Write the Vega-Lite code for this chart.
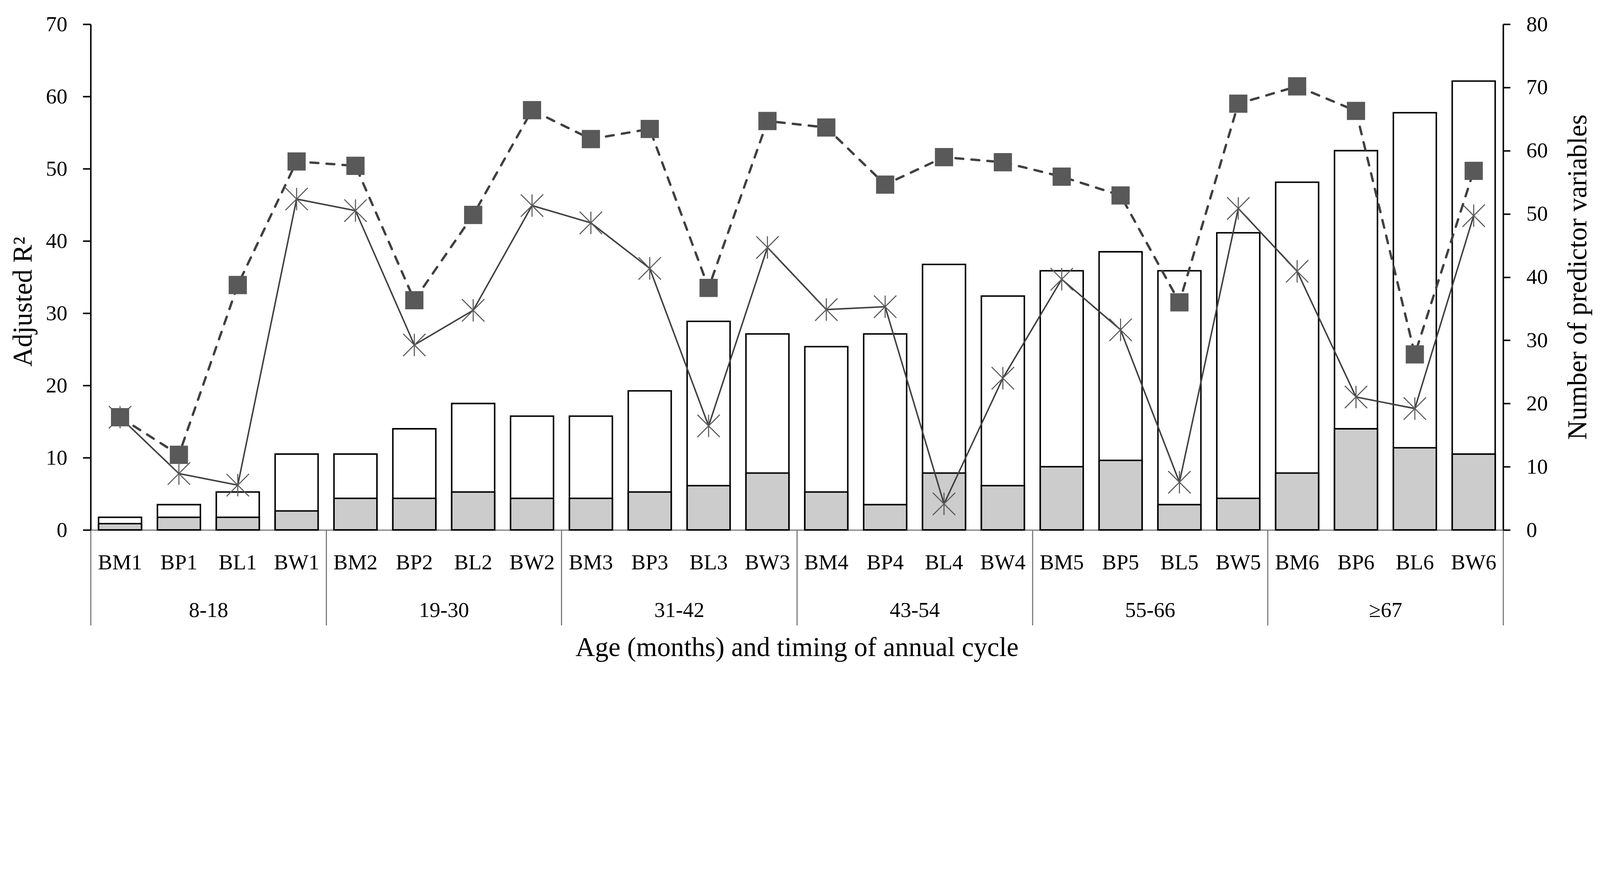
{
  "$schema": "https://vega.github.io/schema/vega-lite/v6.json",
  "autosize": {"type": "fit", "contains": "padding"},
  "padding": {"left": 25, "top": 35, "right": 26, "bottom": 35},
  "width": 4100,
  "height": 1728,
  "background": "white",
  "config": {
    "view": {"stroke": null},
    "font": "Liberation Serif",
    "axis": {"grid": false, "labelFont": "Liberation Serif", "titleFont": "Liberation Serif", "labelColor": "black", "titleColor": "black", "titleFontWeight": "normal"}
  },
  "data": {
    "values": [
      {"cat": "BM1", "group": "8-18", "n_total": 2, "n_dotted": 1, "r2_dash": 15.6, "r2_star": 15.6},
      {"cat": "BP1", "group": "8-18", "n_total": 4, "n_dotted": 2, "r2_dash": 10.4, "r2_star": 7.8},
      {"cat": "BL1", "group": "8-18", "n_total": 6, "n_dotted": 2, "r2_dash": 33.9, "r2_star": 6.2},
      {"cat": "BW1", "group": "8-18", "n_total": 12, "n_dotted": 3, "r2_dash": 51.0, "r2_star": 45.8},
      {"cat": "BM2", "group": "19-30", "n_total": 12, "n_dotted": 5, "r2_dash": 50.4, "r2_star": 44.2},
      {"cat": "BP2", "group": "19-30", "n_total": 16, "n_dotted": 5, "r2_dash": 31.8, "r2_star": 25.6},
      {"cat": "BL2", "group": "19-30", "n_total": 20, "n_dotted": 6, "r2_dash": 43.6, "r2_star": 30.4},
      {"cat": "BW2", "group": "19-30", "n_total": 18, "n_dotted": 5, "r2_dash": 58.1, "r2_star": 44.9},
      {"cat": "BM3", "group": "31-42", "n_total": 18, "n_dotted": 5, "r2_dash": 54.1, "r2_star": 42.5},
      {"cat": "BP3", "group": "31-42", "n_total": 22, "n_dotted": 6, "r2_dash": 55.5, "r2_star": 36.2},
      {"cat": "BL3", "group": "31-42", "n_total": 33, "n_dotted": 7, "r2_dash": 33.5, "r2_star": 14.4},
      {"cat": "BW3", "group": "31-42", "n_total": 31, "n_dotted": 9, "r2_dash": 56.6, "r2_star": 39.1},
      {"cat": "BM4", "group": "43-54", "n_total": 29, "n_dotted": 6, "r2_dash": 55.7, "r2_star": 30.5},
      {"cat": "BP4", "group": "43-54", "n_total": 31, "n_dotted": 4, "r2_dash": 47.8, "r2_star": 30.9},
      {"cat": "BL4", "group": "43-54", "n_total": 42, "n_dotted": 9, "r2_dash": 51.6, "r2_star": 3.6},
      {"cat": "BW4", "group": "43-54", "n_total": 37, "n_dotted": 7, "r2_dash": 50.9, "r2_star": 21.0},
      {"cat": "BM5", "group": "55-66", "n_total": 41, "n_dotted": 10, "r2_dash": 48.9, "r2_star": 34.7},
      {"cat": "BP5", "group": "55-66", "n_total": 44, "n_dotted": 11, "r2_dash": 46.3, "r2_star": 27.7},
      {"cat": "BL5", "group": "55-66", "n_total": 41, "n_dotted": 4, "r2_dash": 31.5, "r2_star": 6.6},
      {"cat": "BW5", "group": "55-66", "n_total": 47, "n_dotted": 5, "r2_dash": 59.0, "r2_star": 44.5},
      {"cat": "BM6", "group": "≥67", "n_total": 55, "n_dotted": 9, "r2_dash": 61.4, "r2_star": 35.8},
      {"cat": "BP6", "group": "≥67", "n_total": 60, "n_dotted": 16, "r2_dash": 58.0, "r2_star": 18.4},
      {"cat": "BL6", "group": "≥67", "n_total": 66, "n_dotted": 13, "r2_dash": 24.3, "r2_star": 16.8},
      {"cat": "BW6", "group": "≥67", "n_total": 71, "n_dotted": 12, "r2_dash": 49.7, "r2_star": 43.5}
    ]
  },
  "layer": [
    {
      "layer": [
        {
          "layer": [
            {
              "mark": {"type": "bar", "fill": "white", "stroke": "black", "strokeWidth": 3.8},
              "encoding": {
                "x": {"field": "cat", "type": "nominal", "sort": null, "scale": {"paddingInner": 0.27, "paddingOuter": 0.135},
                  "axis": {"orient": "bottom", "title": null, "domain": false, "ticks": false, "labelAngle": 0, "labelFontSize": 55, "labelPadding": 100, "labelBaseline": "alphabetic", "labelOverlap": false}},
                "y": {"field": "n_total", "type": "quantitative", "scale": {"domain": [0, 80], "nice": false, "zero": true},
                  "axis": {"orient": "right", "values": [0, 10, 20, 30, 40, 50, 60, 70, 80], "domainColor": "black", "domainWidth": 3.8, "tickColor": "black", "tickWidth": 3.8, "tickSize": 18, "labelFontSize": 55, "labelPadding": 41, "labelBaseline": "middle",
                    "title": "Number of predictor variables", "titleFontSize": 69, "titleAngle": -90, "titleX": 212, "titleY": 647, "titleAlign": "center", "titleBaseline": "alphabetic"}}
              }
            },
            {
              "mark": {"type": "bar", "fill": "#cccccc", "stroke": "black", "strokeWidth": 3.8},
              "encoding": {
                "x": {"field": "cat", "type": "nominal", "sort": null},
                "y": {"field": "n_dotted", "type": "quantitative", "title": "Number of predictor variables"}
              }
            }
          ]
        },
        {
          "layer": [
            {
              "mark": {"type": "line", "stroke": "#404040", "strokeWidth": 3.8},
              "encoding": {
                "x": {"field": "cat", "type": "nominal", "sort": null},
                "y": {"field": "r2_star", "type": "quantitative", "scale": {"domain": [0, 70], "nice": false},
                  "axis": {"orient": "left", "values": [0, 10, 20, 30, 40, 50, 60, 70], "domainColor": "black", "domainWidth": 3.8, "tickColor": "black", "tickWidth": 3.8, "tickSize": 20, "labelFontSize": 55, "labelPadding": 40, "labelBaseline": "middle",
                    "title": "Adjusted R²", "titleFontSize": 69, "titleAngle": -90, "titleX": -152, "titleY": 710, "titleAlign": "center", "titleBaseline": "alphabetic"}}
              }
            },
            {
              "mark": {"type": "point", "shape": "M-1,-1L1,1M-1,1L1,-1M0,-1L0,1", "filled": false, "stroke": "#595959", "strokeWidth": 2.7, "size": 3290, "opacity": 1},
              "encoding": {
                "x": {"field": "cat", "type": "nominal", "sort": null},
                "y": {"field": "r2_star", "type": "quantitative", "title": "Adjusted R²"}
              }
            },
            {
              "mark": {"type": "line", "stroke": "#404040", "strokeWidth": 6, "strokeDash": [20, 21], "strokeCap": "round"},
              "encoding": {
                "x": {"field": "cat", "type": "nominal", "sort": null},
                "y": {"field": "r2_dash", "type": "quantitative", "title": "Adjusted R²"}
              }
            },
            {
              "mark": {"type": "point", "shape": "square", "filled": true, "fill": "#595959", "size": 2170, "opacity": 1, "strokeWidth": 0},
              "encoding": {
                "x": {"field": "cat", "type": "nominal", "sort": null},
                "y": {"field": "r2_dash", "type": "quantitative", "title": "Adjusted R²"}
              }
            }
          ]
        }
      ],
      "resolve": {"scale": {"y": "independent"}}
    },
    {
      "mark": {"type": "text", "text": ""},
      "encoding": {
        "x": {"field": "group", "type": "nominal", "sort": null, "scale": {"paddingInner": 0, "paddingOuter": 0},
          "axis": {"orient": "bottom", "domainColor": "#7f7f7f", "domainWidth": 3, "tickColor": "#7f7f7f", "tickWidth": 3, "tickSize": 244, "tickBand": "extent", "labelAngle": 0, "labelFontSize": 55, "labelPadding": -22, "labelBaseline": "alphabetic", "labelOverlap": false,
            "title": "Age (months) and timing of annual cycle", "titleFontSize": 69, "titleY": 322, "titleBaseline": "alphabetic"}}
      }
    }
  ],
  "resolve": {"scale": {"x": "independent", "y": "independent"}}
}
